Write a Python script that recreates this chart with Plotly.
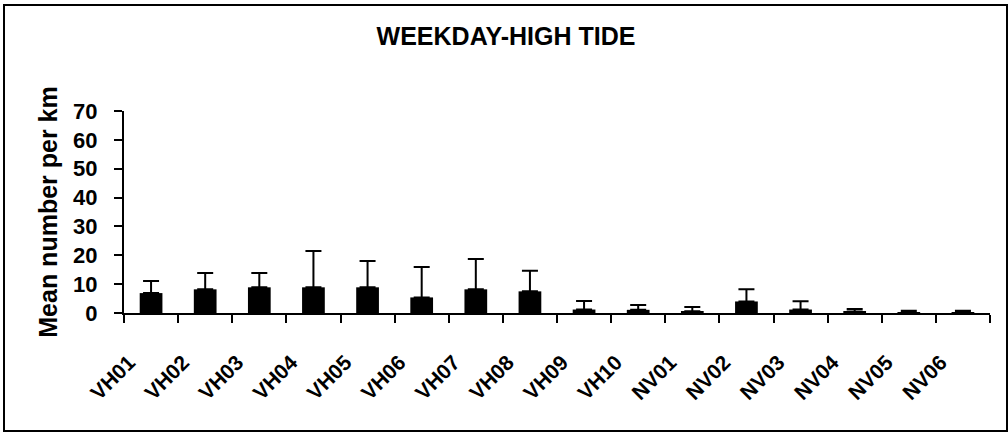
import plotly.graph_objects as go

# Sites along the shore
sites = ["VH01", "VH02", "VH03", "VH04", "VH05", "VH06", "VH07", "VH08",
         "VH09", "VH10", "NV01", "NV02", "NV03", "NV04", "NV05", "NV06"]

# Mean number per km at each site (weekday, high tide)
mean_per_km = [6.9, 8.2, 8.9, 8.9, 8.9, 5.4, 8.2, 7.5,
               1.2, 1.1, 0.6, 4.0, 1.2, 0.5, 0.2, 0.2]

# Upper error (standard deviation) for each site
sd_per_km = [4.2, 5.7, 5.0, 12.6, 9.1, 10.5, 10.5, 7.1,
             3.0, 1.7, 1.5, 4.2, 2.9, 0.9, 0.6, 0.6]

y_ticks = [0, 10, 20, 30, 40, 50, 60, 70]

W, H = 1008, 433
L, R, T, B = 124, 18, 111, 120

font_family = "Liberation Sans, Arial, sans-serif"

fig = go.Figure(
    go.Bar(
        x=sites,
        y=mean_per_km,
        marker=dict(color="black", line=dict(width=0)),
        error_y=dict(
            type="data",
            symmetric=False,
            array=sd_per_km,
            arrayminus=[0] * len(sd_per_km),
            color="black",
            thickness=2,
            width=8,
        ),
    )
)

# plot-area geometry used to place the outer frame in paper coordinates
pw, ph = W - L - R, H - T - B


def px_to_paper_x(px):
    return (px - L) / pw


def px_to_paper_y(py):
    return (H - B - py) / ph


fig.add_shape(
    type="rect", xref="paper", yref="paper",
    x0=px_to_paper_x(4), x1=px_to_paper_x(1007),
    y0=px_to_paper_y(431), y1=px_to_paper_y(5),
    line=dict(color="black", width=2), fillcolor="rgba(0,0,0,0)",
    layer="below",
)

fig.update_layout(
    width=W, height=H,
    margin=dict(l=L, r=R, t=T, b=B),
    paper_bgcolor="white", plot_bgcolor="white",
    showlegend=False,
    bargap=0.58,
    font=dict(family=font_family, color="black"),
    title=dict(
        text="<b>WEEKDAY-HIGH TIDE</b>",
        font=dict(size=25, family=font_family, color="black"),
        x=506 / W, xanchor="center", xref="container",
        y=1 - 36 / H, yanchor="middle", yref="container",
    ),
    xaxis=dict(
        type="category",
        showline=True, linecolor="black", linewidth=2,
        ticks="outside", tickson="boundaries", ticklen=8, tickwidth=2,
        tickcolor="black",
        tickangle=-45,
        tickfont=dict(size=21, family=font_family, weight="bold", color="black"),
        ticklabelstandoff=27,
        ticklabelshift=-22,
        showgrid=False, zeroline=False,
    ),
    yaxis=dict(
        range=[0, 70],
        tickvals=y_ticks,
        showline=True, linecolor="black", linewidth=2,
        ticks="outside", ticklen=8, tickwidth=2, tickcolor="black",
        tickfont=dict(size=22, family=font_family, weight="bold", color="black"),
        ticklabelstandoff=12,
        showgrid=False, zeroline=False,
        title=dict(
            text="<b>Mean number per km</b>",
            font=dict(size=25, family=font_family, color="black"),
            standoff=8,
        ),
    ),
)

fig.write_html("out.html")
